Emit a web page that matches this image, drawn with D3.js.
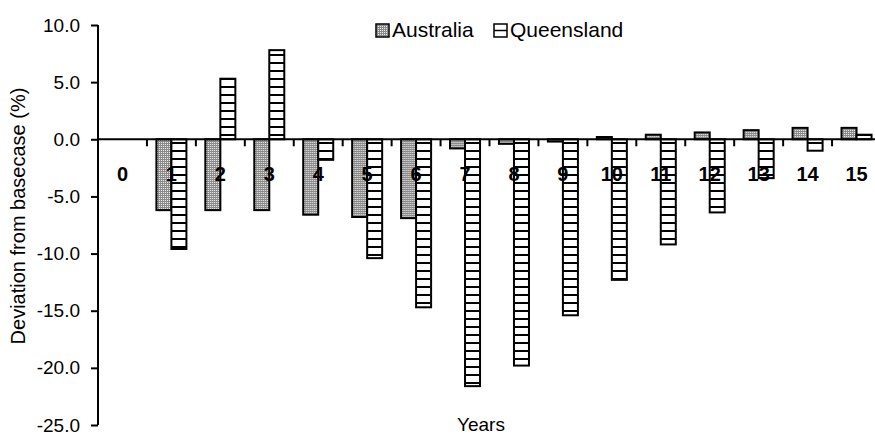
<!DOCTYPE html>
<html>
<head>
<meta charset="utf-8">
<script src="https://cdn.jsdelivr.net/npm/d3@7"></script>
<style>
  html, body { margin: 0; padding: 0; background: #fff; }
  svg { display: block; font-family: Arial, "Liberation Sans", sans-serif; }
</style>
</head>
<body>
<svg id="chart" width="875" height="436"></svg>
<script>
// Years after the shock
const years = ["0","1","2","3","4","5","6","7","8","9","10","11","12","13","14","15"];
// Deviation from basecase (%)
const australia  = [0, -6.2, -6.2, -6.2, -6.6, -6.8, -6.9, -0.8, -0.4, -0.2, 0.2, 0.4, 0.6, 0.8, 1.0, 1.0];
const queensland = [0, -9.6, 5.3, 7.8, -1.8, -10.4, -14.7, -21.6, -19.8, -15.4, -12.3, -9.2, -6.4, -3.4, -1.0, 0.4];
const seriesNames = ["Australia", "Queensland"];
const yTicks = [10, 5, 0, -5, -10, -15, -20, -25];

(function () {
const svg = d3.select("#chart");
const W = 875;
const plotLeft = 98, plotRight = 881, plotTop = 25, plotBottom = 425;

// Fill patterns: grey stipple and horizontal stripes
const defs = svg.append("defs");
const stip = defs.append("pattern").attr("id", "pat-aus")
  .attr("patternUnits", "userSpaceOnUse").attr("width", 2).attr("height", 2);
stip.append("rect").attr("width", 2).attr("height", 2).attr("fill", "#8a8a8a");
stip.append("rect").attr("x", 0).attr("y", 0).attr("width", 1).attr("height", 1).attr("fill", "#eeeeee");

const stripe = defs.append("pattern").attr("id", "pat-qld")
  .attr("patternUnits", "userSpaceOnUse").attr("width", 8).attr("height", 8);
stripe.append("rect").attr("width", 8).attr("height", 8).attr("fill", "#fff");
stripe.append("rect").attr("x", 0).attr("y", 6).attr("width", 8).attr("height", 2).attr("fill", "#000");

const fills = {Australia: "url(#pat-aus)", Queensland: "url(#pat-qld)"};

const x = d3.scaleBand().domain(years).range([plotLeft, plotRight]).paddingInner(0).paddingOuter(0);
const x1 = d3.scaleBand().domain(seriesNames).range([0, x.bandwidth()]).paddingInner(0).paddingOuter(0.63);
const y = d3.scaleLinear().domain([-25, 10]).range([plotBottom, plotTop]);

const rows = years.map((yr, i) => ({year: yr, values: [
  {name: "Australia", v: australia[i]},
  {name: "Queensland", v: queensland[i]}
]}));

// Bars
const g = svg.append("g");
g.selectAll("g.year").data(rows).join("g").attr("class", "year")
  .attr("transform", d => `translate(${x(d.year)},0)`)
  .selectAll("rect").data(d => d.values.filter(e => e.v !== 0)).join("rect")
  .attr("x", d => x1(d.name))
  .attr("width", x1.bandwidth())
  .attr("y", d => y(Math.max(0, d.v)))
  .attr("height", d => Math.abs(y(d.v) - y(0)))
  .attr("fill", d => fills[d.name])
  .attr("stroke", "#000").attr("stroke-width", 2);

// Y axis (hyphen-minus labels with one decimal)
const yAxis = d3.axisLeft(y).tickValues(yTicks).tickFormat(d => d.toFixed(1)).tickSize(7).tickPadding(11);
const ya = svg.append("g").attr("transform", `translate(${plotLeft},0)`).call(yAxis);
ya.select(".domain").attr("stroke", "#000").attr("stroke-width", 2).attr("d", `M0,${plotTop}V${plotBottom}`);
ya.selectAll(".tick line").attr("stroke", "#000").attr("stroke-width", 2);
ya.selectAll(".tick text").attr("font-size", 19).attr("fill", "#000")
  .attr("font-family", "Arial, 'Liberation Sans', sans-serif");

// X axis along zero, ticks at category boundaries
const y0 = y(0);
svg.append("line").attr("x1", plotLeft).attr("x2", W).attr("y1", y0).attr("y2", y0)
  .attr("stroke", "#000").attr("stroke-width", 2);
svg.append("g").selectAll("line").data(years).join("line")
  .attr("x1", d => x(d) + x.bandwidth()).attr("x2", d => x(d) + x.bandwidth())
  .attr("y1", y0).attr("y2", y0 + 7)
  .attr("stroke", "#000").attr("stroke-width", 2);
svg.append("g").selectAll("text").data(years).join("text")
  .attr("x", d => x(d) + x.bandwidth() / 2).attr("y", y0 + 42)
  .attr("text-anchor", "middle").attr("font-weight", "bold").attr("font-size", 20)
  .text(d => d);

// Axis titles
svg.append("text").attr("x", 481).attr("y", 431).attr("text-anchor", "middle")
  .attr("font-size", 19).text("Years");
svg.append("text").attr("transform", `translate(25,216) rotate(-90)`)
  .attr("text-anchor", "middle").attr("font-size", 20).text("Deviation from basecase (%)");

// Legend
const leg = svg.append("g");
const legX = [376, 494];
seriesNames.forEach((name, i) => {
  const lg = leg.append("g").attr("transform", `translate(${legX[i]},24)`);
  lg.append("rect").attr("width", 13).attr("height", 13)
    .attr("fill", name === "Australia" ? fills.Australia : "#fff")
    .attr("stroke", "#000").attr("stroke-width", 1.5);
  if (name === "Queensland") {
    lg.append("line").attr("x1", 0).attr("x2", 13).attr("y1", 6.5).attr("y2", 6.5)
      .attr("stroke", "#000").attr("stroke-width", 1.5);
  }
  lg.append("text").attr("x", 16).attr("y", 13).attr("font-size", 21).text(name);
});
})();
</script>
</body>
</html>
